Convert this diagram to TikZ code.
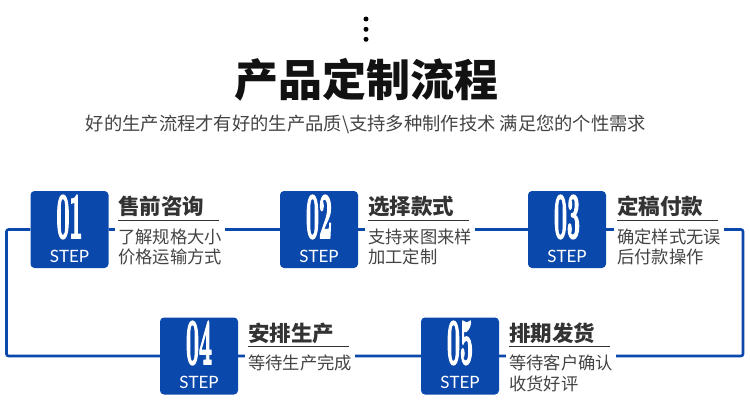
\documentclass[tikz,border=0pt]{standalone}
\usepackage{fontspec}
\usetikzlibrary{backgrounds}
\newfontfamily\cjk{Noto Sans CJK SC}
\newfontfamily\stepfont{Lato}
\newfontfamily\numfont{Latin Modern Roman}[FakeBold=4]
\definecolor{flowblue}{RGB}{10,72,172}
\definecolor{txtdark}{RGB}{51,51,51}
\definecolor{txtgray}{RGB}{68,68,68}
\begin{document}
\begin{tikzpicture}[x=1pt,y=-1pt,
  flowline/.style={draw=flowblue,line width=2.6pt,rounded corners=2pt},
  stepbox/.style={fill=flowblue,rounded corners=4pt,minimum width=78pt,minimum height=77pt,inner sep=0},
  stepnum/.style={text=white,inner sep=0,font=\numfont\fontsize{64}{64}\selectfont\bfseries},
  steplbl/.style={text=white,inner sep=0,font=\stepfont\fontsize{17}{17}\selectfont},
  steptitle/.style={anchor=west,inner xsep=0,inner ysep=3pt,text width=101pt,align=left,text=txtdark,font=\cjk\bfseries\fontsize{21.5}{24}\selectfont},
  stepdesc/.style={anchor=west,fill=white,inner xsep=3pt,inner ysep=1pt,align=left,text=txtgray,font=\cjk\fontsize{17.3}{20.5}\selectfont},
  uline/.style={draw=txtdark,line width=0.9pt},
  dotmark/.style={circle,fill=black,inner sep=0,minimum size=5pt}
]
\useasboundingbox (0,0) rectangle (750,415);

% header
\node[dotmark] (d1) at (366,19) {};
\node[dotmark] (d2) at (366,29.3) {};
\node[dotmark] (d3) at (366,39.3) {};
\node[inner sep=0,text=black!93,font=\cjk\bfseries\fontsize{44}{48}\selectfont] (title) at (366,80) {产品定制流程};
\node[inner sep=0,text=txtgray,font=\cjk\fontsize{18.3}{20}\selectfont] (sub) at (366,124) {好的生产流程才有好的生产品质\textbackslash 支持多种制作技术 满足您的个性需求};

% boxes
\node[stepbox] (b1) at (69.5,229.5) {};
\node[stepbox] (b2) at (319,229.5) {};
\node[stepbox] (b3) at (567,229.5) {};
\node[stepbox] (b4) at (199,356) {};
\node[stepbox] (b5) at (460,356) {};

\node[stepnum] (n1) at (69.5,217) {\scalebox{0.36}[1]{01}};
\node[stepnum] (n2) at (319,217) {\scalebox{0.36}[1]{02}};
\node[stepnum] (n3) at (567,217) {\scalebox{0.36}[1]{03}};
\node[stepnum] (n4) at (199,343) {\scalebox{0.36}[1]{04}};
\node[stepnum] (n5) at (460,343) {\scalebox{0.36}[1]{05}};

\node[steplbl] (s1) at (69.5,256) {STEP};
\node[steplbl] (s2) at (319,256) {STEP};
\node[steplbl] (s3) at (567,256) {STEP};
\node[steplbl] (s4) at (199,382) {STEP};
\node[steplbl] (s5) at (460,382) {STEP};

% titles
\node[steptitle] (t1) at (118,206.5) {售前咨询};
\node[steptitle] (t2) at (368,206.5) {选择款式};
\node[steptitle] (t3) at (617,206.5) {定稿付款};
\node[steptitle] (t4) at (248,333) {安排生产};
\node[steptitle] (t5) at (509,333) {排期发货};
\foreach \t in {t1,t2,t3,t4,t5}
  \draw[uline] (\t.south west) -- (\t.south east);

% descriptions
\node[stepdesc] (e1) at (115,247) {了解规格大小\\价格运输方式};
\node[stepdesc] (e2) at (365,247) {支持来图来样\\加工定制};
\node[stepdesc] (e3) at (614,247) {确定样式无误\\后付款操作};
\node[stepdesc] (e4) at (245,363) {等待生产完成};
\node[stepdesc] (e5) at (506,373.5) {等待客户确认\\收货好评};

% flow loop
\coordinate (c1) at (6.5,229.5);
\coordinate (c2) at (743,229.5);
\coordinate (c3) at (743,356);
\coordinate (c4) at (6.5,356);
\begin{pgfonlayer}{background}
\draw[flowline] (b1) -- (b2) -- (b3) -- (c2) -- (c3) -- (b5) -- (b4) -- (c4) -- (c1) -- (b1);
\end{pgfonlayer}
\end{tikzpicture}
\end{document}
